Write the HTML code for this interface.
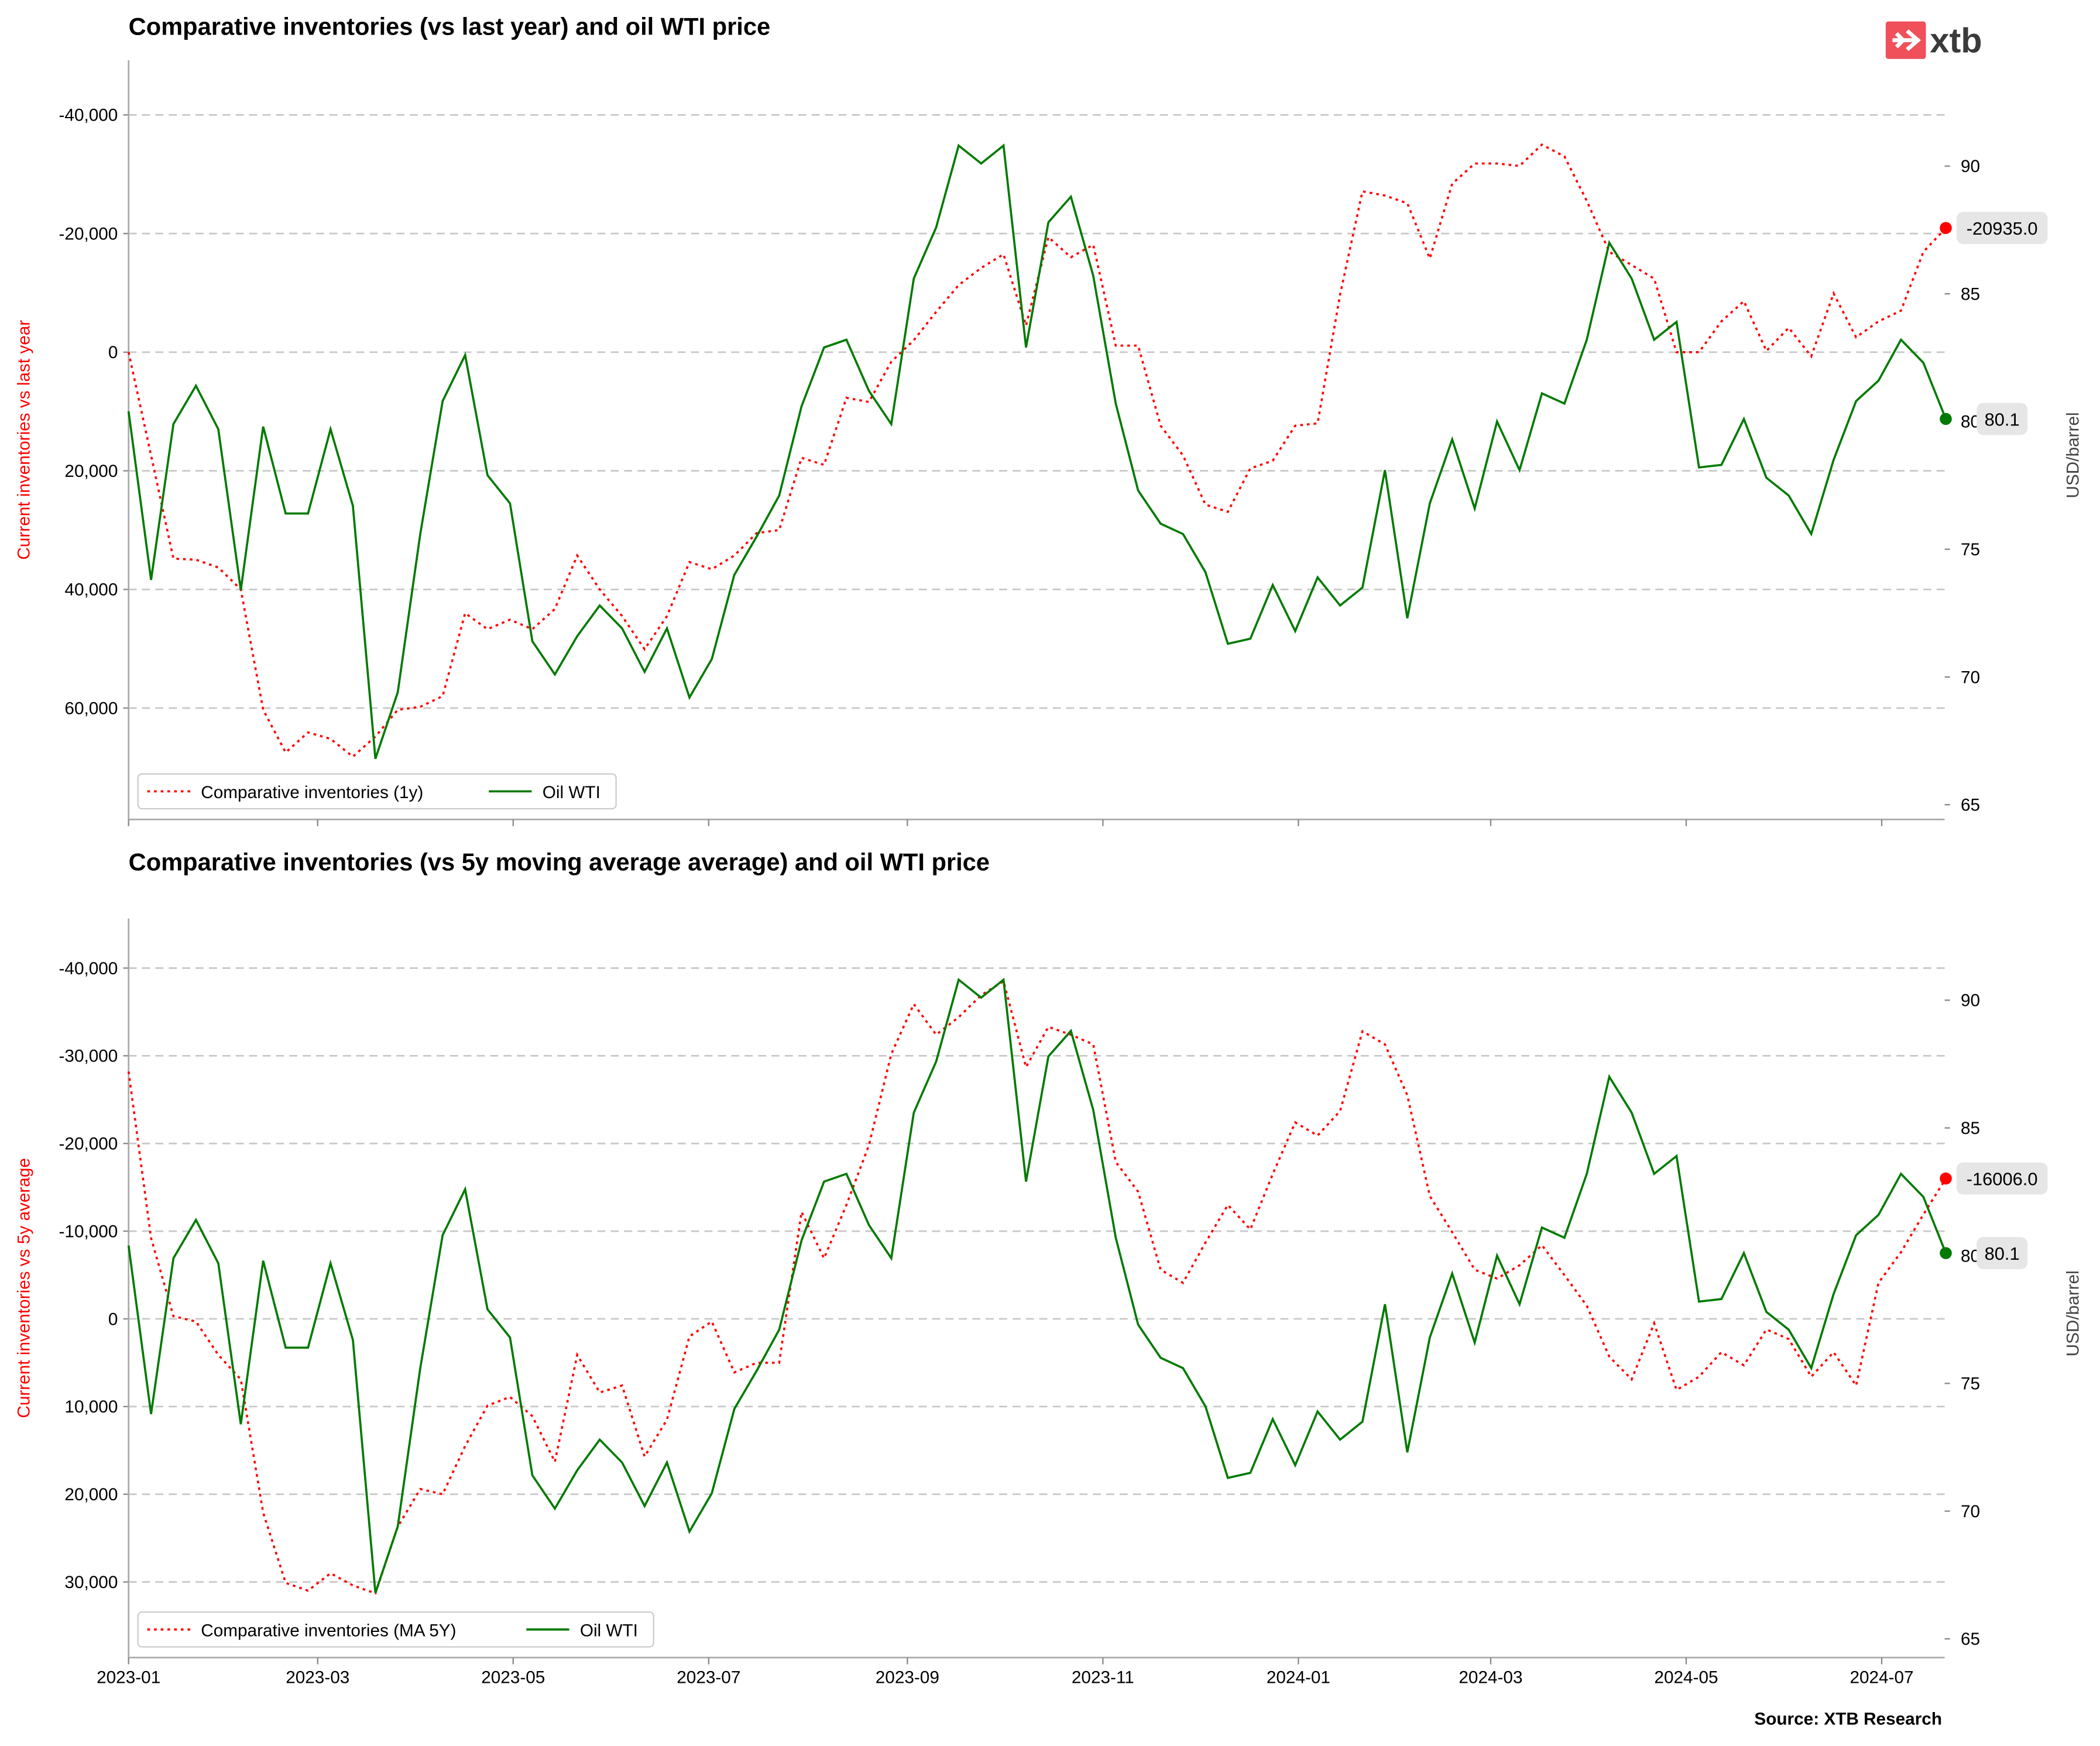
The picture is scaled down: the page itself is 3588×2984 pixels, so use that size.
<!DOCTYPE html>
<html><head><meta charset="utf-8"><style>
html,body{margin:0;padding:0;background:#fff;}
svg{display:block;font-family:"Liberation Sans",Arial,sans-serif;}
</style></head><body>
<svg id="chart" width="3588" height="2984" viewBox="0 0 1568 1304" xmlns="http://www.w3.org/2000/svg">
<text x="96" y="26" font-size="18.2" font-weight="bold">Comparative inventories (vs last year) and oil WTI price</text>
<text x="96" y="650" font-size="18.2" font-weight="bold">Comparative inventories (vs 5y moving average average) and oil WTI price</text>
<g>
<rect x="1408" y="16" width="30" height="28" rx="2" fill="#f0505a"/>
<path d="M1413 30 L1433 30 M1424 23 L1432 30 L1424 37 M1416 25 L1421 30 L1416 35" stroke="#fff" stroke-width="3" fill="none"/>
<text x="1441" y="39" font-size="26" font-weight="bold" fill="#3a3a3a">xtb</text>
</g>
<text x="1450" y="1288" font-size="13" font-weight="bold" text-anchor="end">Source: XTB Research</text>
</svg>
<script>
const wti=[80.4,73.8,79.9,81.4,79.7,73.4,79.8,76.4,76.4,79.7,76.7,66.8,69.4,75.6,80.8,82.6,77.9,76.8,71.4,70.1,71.6,72.8,71.9,70.2,71.9,69.2,70.7,74.0,75.5,77.1,80.6,82.9,83.2,81.2,79.9,85.6,87.6,90.8,90.1,90.8,82.9,87.8,88.8,85.7,80.7,77.3,76.0,75.6,74.1,71.3,71.5,73.6,71.8,73.9,72.8,73.5,78.1,72.3,76.8,79.3,76.6,80.0,78.1,81.1,80.7,83.2,87.0,85.6,83.2,83.9,78.2,78.3,80.1,77.8,77.1,75.6,78.5,80.8,81.6,83.2,82.3,80.1];
const inv1y=[0,17400,34800,35000,36300,40000,60300,67500,64100,65200,68200,64800,60300,59800,58000,44000,46700,45100,46700,43300,34300,40000,44500,50100,44500,35400,36600,34300,30500,30000,17800,19000,7700,8400,1600,-2000,-6800,-11300,-14200,-16500,-4500,-19400,-16000,-18100,-1100,-1100,12400,17400,25700,26900,19600,18300,12400,12000,-9700,-27100,-26400,-25100,-15800,-28400,-31800,-31800,-31400,-35000,-33000,-25500,-16900,-14700,-12400,0,0,-5200,-8600,-200,-4100,700,-9900,-2500,-5200,-7000,-16900,-20935];
const inv5y=[-28200,-9200,-300,300,4100,6900,22100,30100,31000,29000,30400,31300,23700,19400,20000,14500,9900,8900,11100,16300,4100,8400,7600,15700,11500,2000,300,6100,5000,5000,-12200,-6900,-13000,-19800,-30200,-35900,-32400,-34400,-36900,-38500,-28700,-33300,-32400,-31300,-17900,-14500,-5600,-4100,-8700,-13000,-10200,-16500,-22400,-20900,-23700,-32800,-31300,-25500,-14000,-9900,-5600,-4600,-6100,-8400,-5000,-1500,4300,6900,500,8100,6600,3800,5300,1200,2300,6600,3800,7600,-4100,-7600,-11900,-16006];
const monthLabels=["2023-01","2023-03","2023-05","2023-07","2023-09","2023-11","2024-01","2024-03","2024-05","2024-07"];
const monthDays=[0,59,120,181,243,304,365,425,486,547];
const topTicks=[-40000,-20000,0,20000,40000,60000];
const botTicks=[-40000,-30000,-20000,-10000,0,10000,20000,30000];
const priceTicks=[65,70,75,80,85,90];

const NS="http://www.w3.org/2000/svg";
const svg=document.getElementById('chart');
function mk(tag,attrs,parent,text){const e=document.createElementNS(NS,tag);for(const k in attrs)e.setAttribute(k,attrs[k]);if(text!==undefined)e.textContent=text;(parent||svg).appendChild(e);return e;}
const X0=96,PXD=1309/547;
function xd(d){return X0+d*PXD;}
function xi(i){return xd(i*7);}
function fmt(v){return (v<0?'-':'')+Math.abs(v).toLocaleString('en-US');}

function panel(cfg){
  const g=mk('g',{});
  
  
  const yl=v=>cfg.y0+v*cfg.k;
  const yr=p=>cfg.p90+(90-p)*19.08;
  cfg.ticks.forEach(t=>{
    const l=mk('line',{x1:X0,x2:1452,y1:yl(t),y2:yl(t),stroke:'#c8c8c8','stroke-width':1.2,'stroke-dasharray':'6,4'},g);
    
    
    const tl=mk('text',{x:88,y:yl(t)+4.5,'font-size':13,'text-anchor':'end'},g,fmt(t));
    
    
    mk('line',{x1:X0-4,x2:X0,y1:yl(t),y2:yl(t),stroke:'#888'},g);
  });
  priceTicks.forEach(p=>{
    mk('line',{x1:1452,x2:1456,y1:yr(p),y2:yr(p),stroke:'#888'},g);
    const tl=mk('text',{x:1464,y:yr(p)+4.5,'font-size':13},g,String(p));
    
    
  });
  mk('line',{x1:X0,x2:X0,y1:cfg.top,y2:cfg.bot,stroke:'#aaa','stroke-width':1.2},g);
  mk('line',{x1:X0,x2:1452,y1:cfg.bot,y2:cfg.bot,stroke:'#aaa','stroke-width':1.2},g);
  monthDays.forEach((d,i)=>{
    mk('line',{x1:xd(d),x2:xd(d),y1:cfg.bot,y2:cfg.bot+5,stroke:'#888'},g);
    if(cfg.labels){const t=mk('text',{x:xd(d),y:cfg.bot+19,'font-size':13,'text-anchor':'middle'},g,monthLabels[i]);
      
      }
  });
  const inv=cfg.inv;
  const rp=mk('path',{d:inv.map((v,i)=>(i?'L':'M')+xi(i).toFixed(1)+' '+yl(v).toFixed(1)).join(' '),fill:'none',stroke:'#ff0000','stroke-width':1.6,'stroke-dasharray':'2,3'},g);
  
  
  const gp=mk('path',{d:wti.map((v,i)=>(i?'L':'M')+xi(i).toFixed(1)+' '+yr(v).toFixed(1)).join(' '),fill:'none',stroke:'#007a00','stroke-width':1.6},g);
  
  
  const n=inv.length-1;
  const rx=xi(n), ry=yl(inv[n]);
  mk('circle',{cx:rx,cy:ry,r:4.5,fill:'#ff0000'},g);
  const rb=mk('rect',{x:rx+8,y:ry-12,width:68,height:24,rx:5,fill:'#e6e6e6'},g);
  
  
  mk('text',{x:rx+42,y:ry+5,'font-size':13.5,'text-anchor':'middle'},g,inv[n].toFixed(1));
  const gy=yr(wti[n]);
  mk('circle',{cx:rx,cy:gy,r:4.5,fill:'#007a00'},g);
  const gb=mk('rect',{x:rx+23,y:gy-12,width:38,height:24,rx:5,fill:'#e6e6e6'},g);
  
  
  mk('text',{x:rx+42,y:gy+5,'font-size':13.5,'text-anchor':'middle'},g,wti[n].toFixed(1));
  const lt=mk('text',{transform:`translate(22,${(cfg.top+cfg.bot)/2}) rotate(-90)`,'font-size':13,fill:'#ff0000','text-anchor':'middle'},g,cfg.ylabel);
  
  
  const rt=mk('text',{transform:`translate(1552,${cfg.top+295}) rotate(-90)`,'font-size':13,fill:'#444','text-anchor':'middle'},g,'USD/barrel');
  
  
  const lg=mk('g',{},g);
  
  
  const ly=cfg.bot-21;
  const right=103+cfg.legW;
  mk('rect',{x:103,y:ly-13,width:cfg.legW,height:26,rx:3,fill:'#fff',stroke:'#ccc'},lg);
  mk('line',{x1:110,x2:142,y1:ly,y2:ly,stroke:'#ff0000','stroke-width':1.6,'stroke-dasharray':'2,3'},lg);
  mk('text',{x:150,y:ly+5,'font-size':13},lg,cfg.legText);
  mk('line',{x1:right-95,x2:right-63,y1:ly,y2:ly,stroke:'#007a00','stroke-width':1.6},lg);
  mk('text',{x:right-55,y:ly+5,'font-size':13},lg,'Oil WTI');
}
panel({name:'top-panel',inv:inv1y,y0:263,k:44.3/10000,p90:124,ticks:topTicks,top:45,bot:612,labels:false,
  ylabel:'Current inventories vs last year',legText:'Comparative inventories (1y)',legW:357});
panel({name:'bottom-panel',inv:inv5y,y0:985,k:65.5/10000,p90:747,ticks:botTicks,top:686,bot:1238,labels:true,
  ylabel:'Current inventories vs 5y average',legText:'Comparative inventories (MA 5Y)',legW:385});
</script>
</body></html>
